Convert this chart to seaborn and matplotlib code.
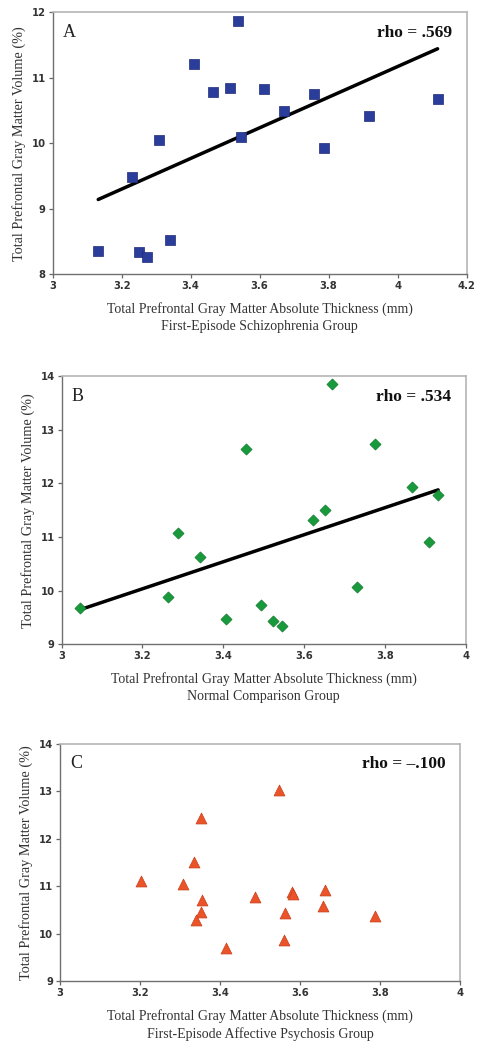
import matplotlib
matplotlib.use("Agg")
import matplotlib.pyplot as plt
import pandas as pd
import seaborn as sns

# Panel A: first-episode schizophrenia
schiz_thickness = [3.132, 3.251, 3.272, 3.340, 3.231, 3.307, 3.410, 3.465, 3.515,
                   3.536, 3.545, 3.614, 3.671, 3.757, 3.786, 3.916, 4.116]
schiz_volume = [8.35, 8.34, 8.27, 8.52, 9.48, 10.05, 11.20, 10.78, 10.84,
                11.87, 10.09, 10.82, 10.49, 10.75, 9.93, 10.41, 10.67]

# Panel B: normal comparison
normal_thickness = [3.045, 3.262, 3.287, 3.342, 3.407, 3.456, 3.494, 3.522, 3.545,
                    3.621, 3.652, 3.670, 3.732, 3.776, 3.867, 3.910, 3.932]
normal_volume = [9.68, 9.88, 11.08, 10.63, 9.47, 12.64, 9.73, 9.43, 9.35,
                 11.32, 11.50, 13.85, 10.07, 12.73, 11.94, 10.91, 11.79]

# Panel C: first-episode affective psychosis
affective_thickness = [3.203, 3.308, 3.336, 3.352, 3.356, 3.353, 3.339, 3.415, 3.488,
                       3.548, 3.563, 3.560, 3.579, 3.583, 3.657, 3.663, 3.787]
affective_volume = [11.11, 11.04, 11.52, 12.43, 10.71, 10.45, 10.29, 9.69, 10.78,
                    13.02, 10.43, 9.86, 10.87, 10.84, 10.58, 10.91, 10.37]

panel_letters = ["A", "B", "C"]
rho_labels = ["rho = .569", "rho = .534", "rho = \u2013.100"]
group_names = ["First-Episode Schizophrenia Group", "Normal Comparison Group",
               "First-Episode Affective Psychosis Group"]
x_ticks = [[3, 3.2, 3.4, 3.6, 3.8, 4, 4.2], [3, 3.2, 3.4, 3.6, 3.8, 4], [3, 3.2, 3.4, 3.6, 3.8, 4]]
x_tick_labels = [["3", "3.2", "3.4", "3.6", "3.8", "4", "4.2"],
                 ["3", "3.2", "3.4", "3.6", "3.8", "4"],
                 ["3", "3.2", "3.4", "3.6", "3.8", "4"]]
y_ticks = [[8, 9, 10, 11, 12], [9, 10, 11, 12, 13, 14], [9, 10, 11, 12, 13, 14]]

sns.set_theme(style="white")
plt.rcParams["font.family"] = ["DejaVu Sans"]

fig = plt.figure(figsize=(4.81, 10.48), dpi=100)
axes = [
    fig.add_axes([0.1096, 0.7383, 0.8604, 0.2502]),
    fig.add_axes([0.1283, 0.3852, 0.8397, 0.2560]),
    fig.add_axes([0.1247, 0.0639, 0.8316, 0.2262]),
]

panels = [
    (schiz_thickness, schiz_volume, "s", "#2b3d9a", "#1d2a78", 62, True),
    (normal_thickness, normal_volume, "D", "#17993c", "#0f7a2c", 32, True),
    (affective_thickness, affective_volume, "^", "#ea5428", "#c8401c", 62, False),
]

serif = ["Liberation Serif", "DejaVu Serif"]

for i, (ax, (xs, ys, marker, color, edge, size, fit)) in enumerate(zip(axes, panels)):
    df = pd.DataFrame({"thickness": xs, "volume": ys})
    if fit:
        sns.regplot(data=df, x="thickness", y="volume", scatter=False, ci=None,
                    truncate=True, color="black", line_kws={"linewidth": 2.5}, ax=ax)
    sns.scatterplot(data=df, x="thickness", y="volume", marker=marker, color=color,
                    edgecolor=edge, linewidth=0.5, s=size, ax=ax, zorder=3)

    ax.set_xlim(x_ticks[i][0], x_ticks[i][-1])
    ax.set_ylim(y_ticks[i][0], y_ticks[i][-1])
    ax.set_xticks(x_ticks[i])
    ax.set_xticklabels(x_tick_labels[i])
    ax.set_yticks(y_ticks[i])
    for lab in ax.get_xticklabels() + ax.get_yticklabels():
        lab.set_fontweight("bold")
        lab.set_fontsize(7.2)
        lab.set_color("#333333")
    ax.tick_params(axis="both", direction="out", length=3, width=0.9,
                   color="#666666", pad=2, bottom=True, left=True)

    for side in ["top", "right"]:
        ax.spines[side].set_color("#b5b5b5")
        ax.spines[side].set_linewidth(1.2)
    for side in ["left", "bottom"]:
        ax.spines[side].set_color("#707070")
        ax.spines[side].set_linewidth(1.0)

    ax.set_xlabel("Total Prefrontal Gray Matter Absolute Thickness (mm)\n" + group_names[i],
                  family=serif, fontsize=10, color="#333333", labelpad=8, linespacing=1.35)
    ax.set_ylabel("Total Prefrontal Gray Matter Volume (%)", family=serif,
                  fontsize=10.3, color="#333333", labelpad=4)

    ax.text(0.025, 0.955, panel_letters[i], transform=ax.transAxes, family=serif,
            fontsize=13, color="#222222", ha="left", va="top")
    ax.text(0.965, 0.95, rho_labels[i], transform=ax.transAxes, family=serif,
            fontsize=12.5, fontweight="bold", color="#111111", ha="right", va="top")

fig.savefig("out.png", dpi=100)
